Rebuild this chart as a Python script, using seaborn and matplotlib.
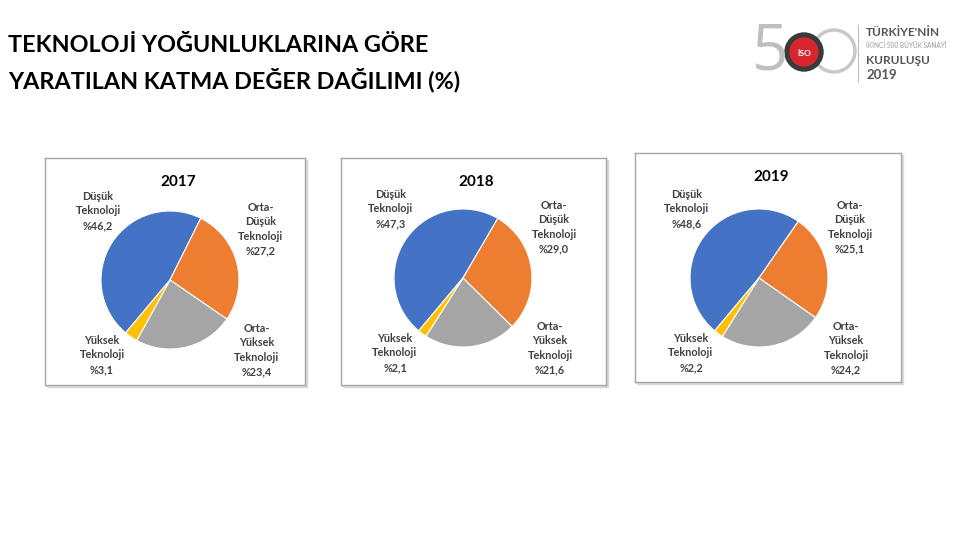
import matplotlib
matplotlib.use("Agg")
import matplotlib.pyplot as plt
from matplotlib.patches import Rectangle, Circle
import seaborn as sns

# data
years = ["2017", "2018", "2019"]
categories = ["Düşük\nTeknoloji", "Orta-\nDüşük\nTeknoloji", "Orta-\nYüksek\nTeknoloji", "Yüksek\nTeknoloji"]
share_2017 = [46.2, 27.2, 23.4, 3.1]
share_2018 = [47.3, 29.0, 21.6, 2.1]
share_2019 = [48.6, 25.1, 24.2, 2.2]
shares = [share_2017, share_2018, share_2019]

title_lines = ["TEKNOLOJİ YOĞUNLUKLARINA GÖRE", "YARATILAN KATMA DEĞER DAĞILIMI (%)"]

sns.set_theme(style="white")
plt.rcParams["font.family"] = ["Lato", "DejaVu Sans"]

colors = ["#4472C4", "#ED7D31", "#A5A5A5", "#FFC000"]

W, H = 960, 539
fig = plt.figure(figsize=(9.6, 5.39), dpi=100)
fig.patch.set_facecolor("white")

# background layer in pixel coordinates (title, logo, box shadows)
bg = fig.add_axes([0, 0, 1, 1])
bg.set_xlim(0, W)
bg.set_ylim(H, 0)
bg.axis("off")

bg.text(8, 45, title_lines[0], fontsize=16.8, fontweight="bold", color="black", va="center", ha="left")
bg.text(8, 80, title_lines[1], fontsize=16.8, fontweight="bold", color="black", va="center", ha="left")

# logo (approximation)
bg.text(770, 53, "5", fontsize=46, color="#BFBFBF", ha="center", va="center", family="Open Sans")
bg.add_patch(Circle((834, 51), 21, fill=False, ec="#C8C8C8", lw=2.5))
bg.add_patch(Circle((804, 52), 19, color="#3A3A3A"))
bg.add_patch(Circle((804, 52), 14, color="#D7262E"))
bg.text(804, 53, "İSO", fontsize=6, color="white", fontweight="bold", ha="center", va="center")
bg.plot([858, 858], [25, 82], color="#BFBFBF", lw=0.8)
bg.text(866, 33, "TÜRKİYE'NİN", fontsize=8.5, fontweight="bold", color="#555555", va="center")
bg.text(866, 46, "İKİNCİ 500 BÜYÜK SANAYİ", fontsize=4.7, color="#9A9A9A", va="center")
bg.text(866, 60, "KURULUŞU", fontsize=8.5, fontweight="bold", color="#555555", va="center")
bg.text(866, 75, "2019", fontsize=9.5, fontweight="bold", color="#555555", va="center")

# layout: chart boxes (left, top, width, height) in pixels and pie centres inside each box
boxes = [(45, 158, 260, 227), (341, 158, 265, 227), (635, 153, 266, 229)]
pie_centres = [(125, 122), (122, 120), (124, 125)]
radius = 69
label_offsets = [(-72, 69), (91, 51), (87, -70), (-68, -75)]

for year, vals, (bx, by, bw, bh), (pcx, pcy) in zip(years, shares, boxes, pie_centres):
    # soft shadow
    bg.add_patch(Rectangle((bx + 2, by + 2), bw, bh, color="#D9D9D9", zorder=0))
    ax = fig.add_axes([bx / W, 1 - (by + bh) / H, bw / W, bh / H])
    ax.set_facecolor("white")
    cy = bh - pcy
    ax.pie(vals, colors=colors, startangle=230, counterclock=False,
           center=(pcx, cy), radius=radius, frame=True,
           wedgeprops=dict(edgecolor="white", linewidth=0.8))
    ax.set_xlim(0, bw)
    ax.set_ylim(0, bh)
    ax.set_aspect("auto")
    ax.set_xticks([])
    ax.set_yticks([])
    for s in ax.spines.values():
        s.set_visible(True)
        s.set_color("#A6A6A6")
        s.set_linewidth(1)
    ax.text(bw / 2 + 3, bh - 24, year, fontsize=11, fontweight="bold", color="black", ha="center", va="center")
    for cat, v, (dx, dy) in zip(categories, vals, label_offsets):
        lbl = cat + "\n%" + f"{v:.1f}".replace(".", ",")
        ax.text(pcx + dx, cy + dy, lbl, fontsize=7.8, fontweight="bold", color="#404040",
                ha="center", va="center", linespacing=1.4)

fig.savefig("out.png", dpi=100, facecolor="white")
